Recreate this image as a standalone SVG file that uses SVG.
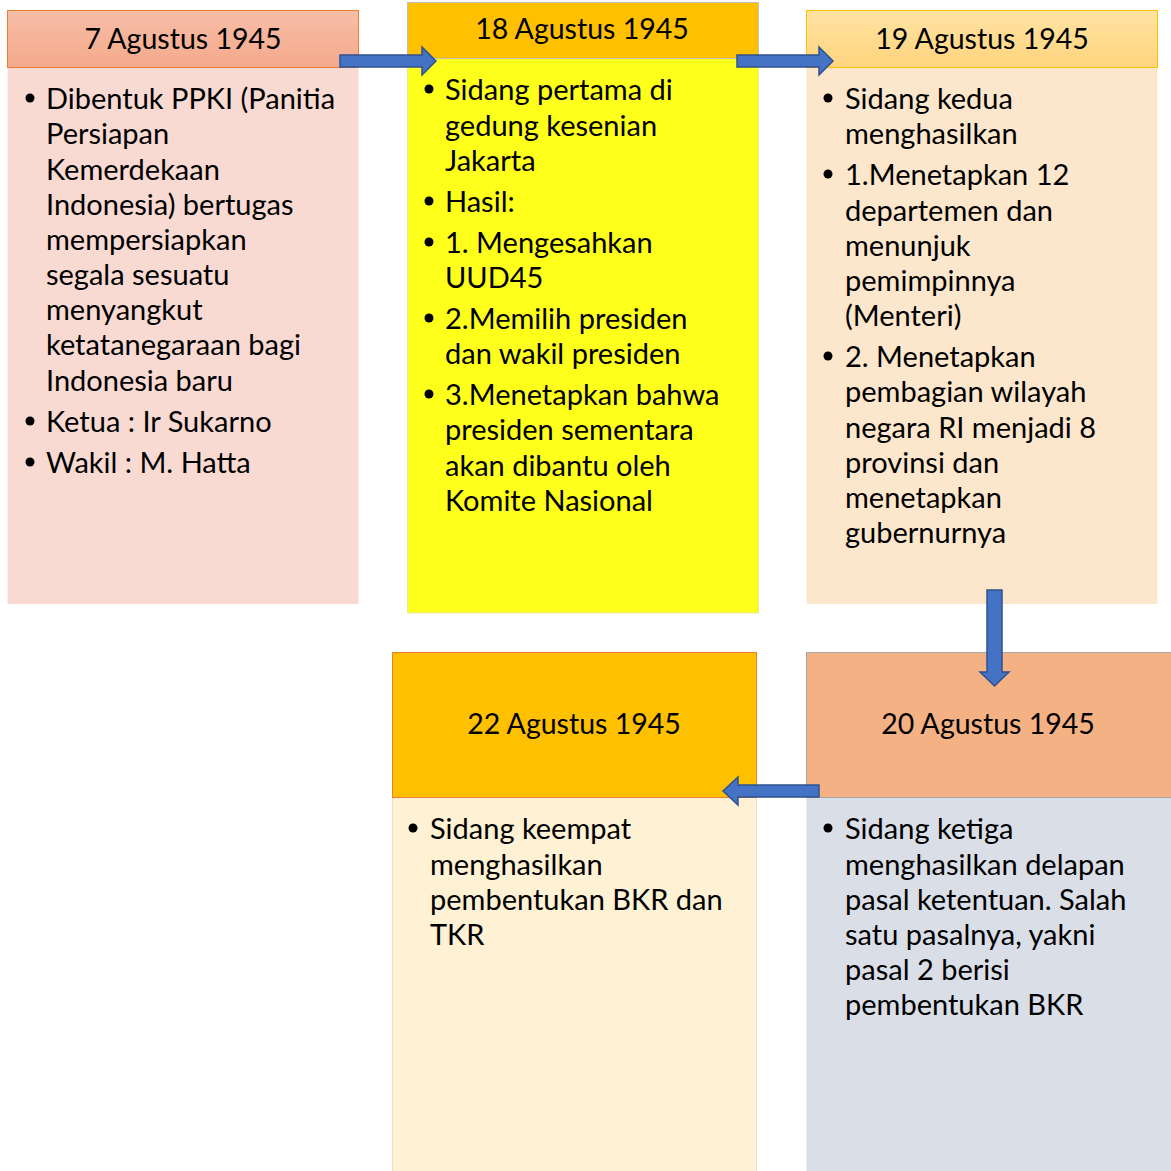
<svg xmlns="http://www.w3.org/2000/svg" width="1171" height="1171" viewBox="0 0 1171 1171">
<defs>
<linearGradient id="g1" x1="0" y1="0" x2="0" y2="1"><stop offset="0" stop-color="#f7bea8"/><stop offset="1" stop-color="#f4a98b"/></linearGradient>
<linearGradient id="g3" x1="0" y1="0" x2="0" y2="1"><stop offset="0" stop-color="#ffe3a3"/><stop offset="1" stop-color="#ffd47d"/></linearGradient>
<style>
text{font-family:Lato,"Liberation Sans",sans-serif;font-size:29px;fill:#000}
.h{text-anchor:middle;font-size:28.5px}
.arr{fill:#4472c4;stroke:#2f528f;stroke-width:1.5}
.b{fill:#000}
</style>
</defs>
<rect width="1171" height="1171" fill="#fff"/>
<g id="node-7agustus">
<rect x="7.5" y="67" width="351" height="537" fill="#f8dad2"/>
<rect x="7.5" y="10.5" width="351" height="57" fill="url(#g1)" stroke="#ed7d31" stroke-width="1"/>
<text class="h" x="183" y="49">7 Agustus 1945</text>
<g transform="translate(0,1)">
<circle class="b" cx="30" cy="97" r="4.5"/>
<text x="46" y="108">Dibentuk PPKI (Panitia</text>
<text x="46" y="143">Persiapan</text>
<text x="46" y="179">Kemerdekaan</text>
<text x="46" y="214">Indonesia) bertugas</text>
<text x="46" y="249">mempersiapkan</text>
<text x="46" y="284">segala sesuatu</text>
<text x="46" y="319">menyangkut</text>
<text x="46" y="354">ketatanegaraan bagi</text>
<text x="46" y="390">Indonesia baru</text>
<circle class="b" cx="30" cy="420" r="4.5"/>
<text x="46" y="431">Ketua : Ir Sukarno</text>
<circle class="b" cx="30" cy="461" r="4.5"/>
<text x="46" y="472">Wakil : M. Hatta</text>
</g>
</g>
<g id="node-18agustus">
<rect x="407.5" y="58" width="351" height="555" fill="#ffff1c" stroke="#e8e8a0" stroke-width="1"/>
<rect x="407.5" y="2.5" width="351" height="56" fill="#ffc000" stroke="#bfbfbf" stroke-width="1"/>
<text class="h" x="582" y="39">18 Agustus 1945</text>
<g transform="translate(0,1)">
<circle class="b" cx="429" cy="88" r="4.5"/>
<text x="445" y="99">Sidang pertama di</text>
<text x="445" y="135">gedung kesenian</text>
<text x="445" y="170">Jakarta</text>
<circle class="b" cx="429" cy="200" r="4.5"/>
<text x="445" y="211">Hasil:</text>
<circle class="b" cx="429" cy="241" r="4.5"/>
<text x="445" y="252">1. Mengesahkan</text>
<text x="445" y="287">UUD45</text>
<circle class="b" cx="429" cy="317" r="4.5"/>
<text x="445" y="328">2.Memilih presiden</text>
<text x="445" y="363">dan wakil presiden</text>
<circle class="b" cx="429" cy="393" r="4.5"/>
<text x="445" y="404">3.Menetapkan bahwa</text>
<text x="445" y="439">presiden sementara</text>
<text x="445" y="475">akan dibantu oleh</text>
<text x="445" y="510">Komite Nasional</text>
</g>
</g>
<g id="node-19agustus">
<rect x="806.5" y="67" width="351" height="537" fill="#fde7cc"/>
<rect x="806.5" y="10.5" width="351" height="57" fill="url(#g3)" stroke="#ffc000" stroke-width="1"/>
<text class="h" x="982" y="49">19 Agustus 1945</text>
<g transform="translate(0,1)">
<circle class="b" cx="828" cy="97" r="4.5"/>
<text x="845" y="108">Sidang kedua</text>
<text x="845" y="143">menghasilkan</text>
<circle class="b" cx="828" cy="173" r="4.5"/>
<text x="845" y="184">1.Menetapkan 12</text>
<text x="845" y="220">departemen dan</text>
<text x="845" y="255">menunjuk</text>
<text x="845" y="290">pemimpinnya</text>
<text x="845" y="325">(Menteri)</text>
<circle class="b" cx="828" cy="355" r="4.5"/>
<text x="845" y="366">2. Menetapkan</text>
<text x="845" y="401">pembagian wilayah</text>
<text x="845" y="437">negara RI menjadi 8</text>
<text x="845" y="472">provinsi dan</text>
<text x="845" y="507">menetapkan</text>
<text x="845" y="542">gubernurnya</text>
</g>
</g>
<g id="node-20agustus">
<rect x="806.5" y="797" width="366" height="376" fill="#dadee7"/>
<rect x="806.5" y="652.5" width="366" height="145" fill="#f4b183" stroke="#a5a5a5" stroke-width="1"/>
<text class="h" x="988" y="734">20 Agustus 1945</text>
<g transform="translate(0,1)">
<circle class="b" cx="828" cy="827" r="4.5"/>
<text x="845" y="838">Sidang ketiga</text>
<text x="845" y="874">menghasilkan delapan</text>
<text x="845" y="909">pasal ketentuan. Salah</text>
<text x="845" y="944">satu pasalnya, yakni</text>
<text x="845" y="979">pasal 2 berisi</text>
<text x="845" y="1014">pembentukan BKR</text>
</g>
</g>
<g id="node-22agustus">
<rect x="392.5" y="797" width="364" height="376" fill="#fff1d4" stroke="#fbd9c0" stroke-width="1"/>
<rect x="392.5" y="652.5" width="364" height="145" fill="#ffc000" stroke="#ed7d31" stroke-width="1"/>
<text class="h" x="574" y="734">22 Agustus 1945</text>
<g transform="translate(0,1)">
<circle class="b" cx="413" cy="827" r="4.5"/>
<text x="430" y="838">Sidang keempat</text>
<text x="430" y="874">menghasilkan</text>
<text x="430" y="909">pembentukan BKR dan</text>
<text x="430" y="944">TKR</text>
</g>
</g>
<g id="connectors">
<polygon class="arr" points="340,55 422,55 422,47 436,61 422,75 422,67 340,67"/>
<polygon class="arr" points="737,55 819,55 819,47 833,61 819,75 819,67 737,67"/>
<polygon class="arr" points="987,590 1002,590 1002,672 1009,672 994.5,686 980,672 987,672"/>
<polygon class="arr" points="819,785 738,785 738,777 723,791 738,805 738,797 819,797"/>
</g>
</svg>
